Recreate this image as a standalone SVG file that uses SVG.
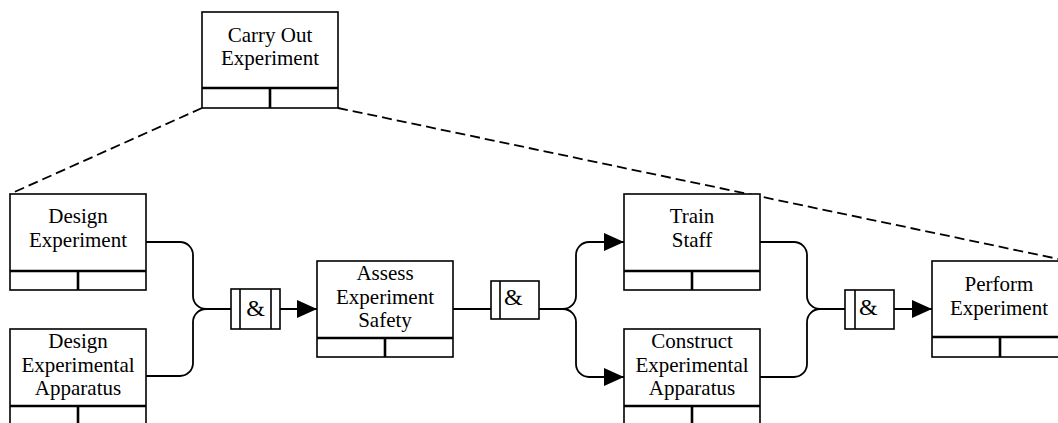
<svg xmlns="http://www.w3.org/2000/svg" width="1058" height="423" viewBox="0 0 1058 423">
<style>
.box{fill:#fff;stroke:#000;stroke-width:1.6}
.bar{stroke:#000;stroke-width:2.6;fill:none}
.lbl{font-family:"Liberation Serif","Times New Roman",serif;font-size:21px;fill:#000;text-anchor:middle}
.amp{font-family:"Liberation Serif","Times New Roman",serif;font-size:24px;fill:#000}
.con{fill:none;stroke:#000;stroke-width:1.8}
.dash{fill:none;stroke:#000;stroke-width:1.8;stroke-dasharray:10 5}
.jb{fill:#fff;stroke:#000;stroke-width:1.6}
</style>
<defs>
<marker id="ah" markerUnits="userSpaceOnUse" markerWidth="20" markerHeight="18" refX="20" refY="9" orient="auto" viewBox="0 0 20 18">
<path d="M0,0 L20,9 L0,18 Z" fill="#000"/>
</marker>
</defs>
<rect width="1058" height="423" fill="#fff"/>
<g id="connectors">
<path class="dash" d="M202,108 L10,194"/>
<path class="dash" d="M338,108 L1068,261"/>
<path class="con" d="M146,242 H180 A13,13 0 0 1 193,255 V296 A13,13 0 0 0 206,309 H231"/>
<path class="con" d="M146,376 H180 A13,13 0 0 0 193,363 V322 A13,13 0 0 1 206,309"/>
<path class="con" d="M280,309 H317" marker-end="url(#ah)"/>
<path class="con" d="M453,309 H491"/>
<path class="con" d="M539,309 H563 A13,13 0 0 0 576,296 V255 A13,13 0 0 1 589,242 H624" marker-end="url(#ah)"/>
<path class="con" d="M563,309 A13,13 0 0 1 576,322 V364 A13,13 0 0 0 589,377 H624" marker-end="url(#ah)"/>
<path class="con" d="M760,242 H794 A13,13 0 0 1 807,255 V296 A13,13 0 0 0 820,309 H845"/>
<path class="con" d="M760,377 H794 A13,13 0 0 0 807,364 V322 A13,13 0 0 1 820,309"/>
<path class="con" d="M894,309 H932" marker-end="url(#ah)"/>
</g>
<g id="n-carry">
<rect class="box" x="202" y="12" width="136" height="96"/>
<path class="bar" d="M202,88 H338 M270,88 V108"/>
<text class="lbl" x="270" y="42">Carry Out</text>
<text class="lbl" x="270" y="65">Experiment</text>
</g>
<g id="n-design-exp">
<rect class="box" x="10" y="194" width="136" height="96"/>
<path class="bar" d="M10,271 H146 M78,271 V290"/>
<text class="lbl" x="78" y="223">Design</text>
<text class="lbl" x="78" y="247">Experiment</text>
</g>
<g id="n-design-app">
<rect class="box" x="10" y="329" width="136" height="100"/>
<path class="bar" d="M10,406 H146 M78,406 V429"/>
<text class="lbl" x="78" y="348">Design</text>
<text class="lbl" x="78" y="372">Experimental</text>
<text class="lbl" x="78" y="395">Apparatus</text>
</g>
<g id="j-and1">
<rect class="jb" x="231" y="289" width="49" height="40"/>
<path class="con" d="M240,289 V329 M271,289 V329" style="stroke-width:1.6"/>
<text class="amp" x="255.5" y="316" text-anchor="middle">&amp;</text>
</g>
<g id="n-assess">
<rect class="box" x="317" y="261" width="136" height="96"/>
<path class="bar" d="M317,338 H453 M385,338 V357"/>
<text class="lbl" x="385" y="280">Assess</text>
<text class="lbl" x="385" y="304">Experiment</text>
<text class="lbl" x="385" y="327">Safety</text>
</g>
<g id="j-and2">
<rect class="jb" x="491" y="281" width="48" height="38"/>
<path class="con" d="M500,281 V319" style="stroke-width:1.6"/>
<text class="amp" x="504" y="305">&amp;</text>
</g>
<g id="n-train">
<rect class="box" x="624" y="194" width="136" height="96"/>
<path class="bar" d="M624,271 H760 M692,271 V290"/>
<text class="lbl" x="692" y="223">Train</text>
<text class="lbl" x="692" y="247">Staff</text>
</g>
<g id="n-construct">
<rect class="box" x="624" y="329" width="136" height="100"/>
<path class="bar" d="M624,406 H760 M692,406 V429"/>
<text class="lbl" x="692" y="348">Construct</text>
<text class="lbl" x="692" y="372">Experimental</text>
<text class="lbl" x="692" y="395">Apparatus</text>
</g>
<g id="j-and3">
<rect class="jb" x="845" y="290" width="49" height="39"/>
<path class="con" d="M855,290 V329" style="stroke-width:1.6"/>
<text class="amp" x="859" y="315">&amp;</text>
</g>
<g id="n-perform">
<rect class="box" x="932" y="261" width="136" height="96"/>
<path class="bar" d="M932,337 H1068 M1000,337 V357"/>
<text class="lbl" x="999" y="291">Perform</text>
<text class="lbl" x="999" y="315">Experiment</text>
</g>
</svg>
